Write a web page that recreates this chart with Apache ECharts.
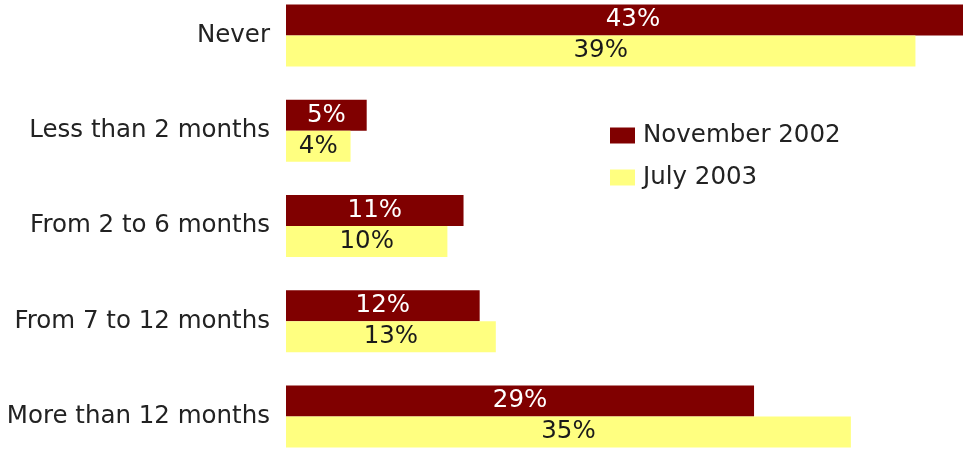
<!DOCTYPE html>
<html>
<head>
<meta charset="utf-8">
<script src="https://cdn.jsdelivr.net/npm/echarts@6/dist/echarts.min.js"></script>
<style>
html,body{margin:0;padding:0;background:#fff;overflow:hidden;width:963px;height:459px;position:relative}
#c{position:absolute;left:0;top:-12px;width:980px;height:476px}
</style>
</head>
<body>
<div id="c"></div>
<script>
const categories = ["Never", "Less than 2 months", "From 2 to 6 months", "From 7 to 12 months", "More than 12 months"];
const nov2002 = [43, 5, 11, 12, 29];
const jul2003 = [39, 4, 10, 13, 35];
const seriesNames = ["November 2002", "July 2003"];

const font = "DejaVu Sans";
const chart = echarts.init(document.getElementById('c'), null, {renderer: 'canvas'});
chart.setOption({
  animation: false,
  backgroundColor: '#ffffff',
  grid: {left: 286, right: 0, top: 0, bottom: 0, containLabel: false},
  legend: {
    orient: 'vertical', left: 605, top: 130,
    itemWidth: 25, itemHeight: 16, itemGap: 17,
    icon: 'rect',
    textStyle: {fontFamily: font, fontSize: 24.5, color: '#222', padding: [0, 0, 0, 3]},
    data: seriesNames
  },
  xAxis: {type: 'value', min: 0, max: 43, show: false},
  yAxis: {
    type: 'category', data: categories, inverse: true,
    axisLine: {show: false}, axisTick: {show: false}, splitLine: {show: false},
    axisLabel: {fontFamily: font, fontSize: 24.5, color: '#222', margin: 16}
  },
  series: [
    {name: seriesNames[0], type: 'bar', data: nov2002, barWidth: 31, barGap: '0%',
     itemStyle: {color: '#800000'},
     label: {show: true, position: 'inside', formatter: '{c}%', fontFamily: font, fontSize: 24.5, color: '#ffffff'}},
    {name: seriesNames[1], type: 'bar', data: jul2003, barWidth: 31, barGap: '0%',
     itemStyle: {color: '#ffff80'},
     label: {show: true, position: 'inside', formatter: '{c}%', fontFamily: font, fontSize: 24.5, color: '#1a1a1a'}}
  ]
});
</script>
</body>
</html>
